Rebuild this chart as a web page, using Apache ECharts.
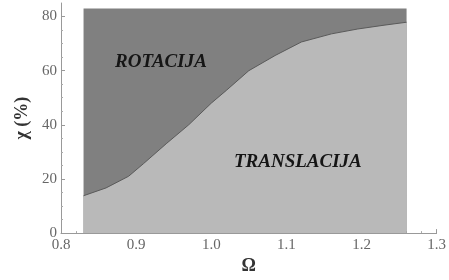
<!DOCTYPE html>
<html>
<head>
<meta charset="utf-8">
<script src="https://cdn.jsdelivr.net/npm/echarts@6/dist/echarts.min.js"></script>
<style>
  html, body { margin: 0; padding: 0; background: #fff; }
  #chart { width: 449px; height: 280px; }
</style>
</head>
<body>
<div id="chart"></div>
<script>
// boundary between the two regions
const omega = [0.83, 0.86, 0.89, 0.91, 0.94, 0.97, 1.0, 1.02, 1.05, 1.085, 1.12, 1.16, 1.195, 1.23, 1.26];
const chi = [13.8, 16.7, 21, 25.7, 33, 40, 48, 52.7, 60, 65.6, 70.6, 73.6, 75.4, 76.8, 77.9];
// top edge of the shaded region
const topOmega = [0.83, 1.26];
const topChi = [83, 83];
const xTicks = [0.8, 0.9, 1.0, 1.1, 1.2, 1.3];
const yTicks = [0, 20, 40, 60, 80];

const serif = "Liberation Serif";
const chart = echarts.init(document.getElementById("chart"));

const regionLabel = { fontFamily: serif, fontSize: 19, fontStyle: "italic", fontWeight: "bold", fill: "#151515" };

chart.setOption({
  animation: false,
  grid: { left: 61, right: 9, top: 3, bottom: 42 },
  xAxis: {
    type: "value",
    min: 0.8,
    max: 1.3,
    interval: 0.1,
    name: "Ω",
    nameLocation: "middle",
    nameGap: 20,
    nameTextStyle: { fontFamily: serif, fontSize: 18, fontWeight: "bold", color: "#333" },
    axisLine: { lineStyle: { color: "#999", width: 1 } },
    axisTick: { inside: true, length: 4, lineStyle: { color: "#999" } },
    minorTick: { show: true, splitNumber: 5, length: 2, lineStyle: { color: "#aaa" } },
    splitLine: { show: false },
    axisLabel: {
      customValues: xTicks,
      formatter: v => v.toFixed(1),
      fontFamily: serif, fontSize: 15, color: "#666", margin: 4
    }
  },
  yAxis: {
    type: "value",
    min: 0,
    max: 85,
    interval: 20,
    name: "χ (%)",
    nameLocation: "middle",
    nameGap: 27,
    nameRotate: 90,
    nameTextStyle: { fontFamily: serif, fontSize: 18, fontWeight: "bold", color: "#333" },
    axisLine: { show: true, lineStyle: { color: "#999", width: 1 } },
    axisTick: { show: true, inside: true, length: 4, customValues: yTicks, lineStyle: { color: "#999" } },
    minorTick: { show: true, splitNumber: 4, length: 2, lineStyle: { color: "#aaa" } },
    splitLine: { show: false },
    axisLabel: {
      customValues: yTicks,
      fontFamily: serif, fontSize: 15, color: "#666", margin: 4
    }
  },
  series: [
    {
      name: "ROTACIJA",
      type: "line",
      data: topOmega.map((x, i) => [x, topChi[i]]),
      symbol: "none",
      lineStyle: { width: 0 },
      areaStyle: { color: "#808080", opacity: 1 },
      z: 1
    },
    {
      name: "TRANSLACIJA",
      type: "line",
      data: omega.map((x, i) => [x, chi[i]]),
      symbol: "none",
      lineStyle: { width: 1, color: "#5a5a5a" },
      areaStyle: { color: "#b9b9b9", opacity: 1 },
      z: 2
    }
  ],
  graphic: [
    {
      type: "text", left: 115, top: 53, z: 100,
      style: Object.assign({ text: "ROTACIJA" }, regionLabel)
    },
    {
      type: "text", left: 234, top: 153, z: 100,
      style: Object.assign({ text: "TRANSLACIJA" }, regionLabel)
    }
  ]
});
</script>
</body>
</html>
